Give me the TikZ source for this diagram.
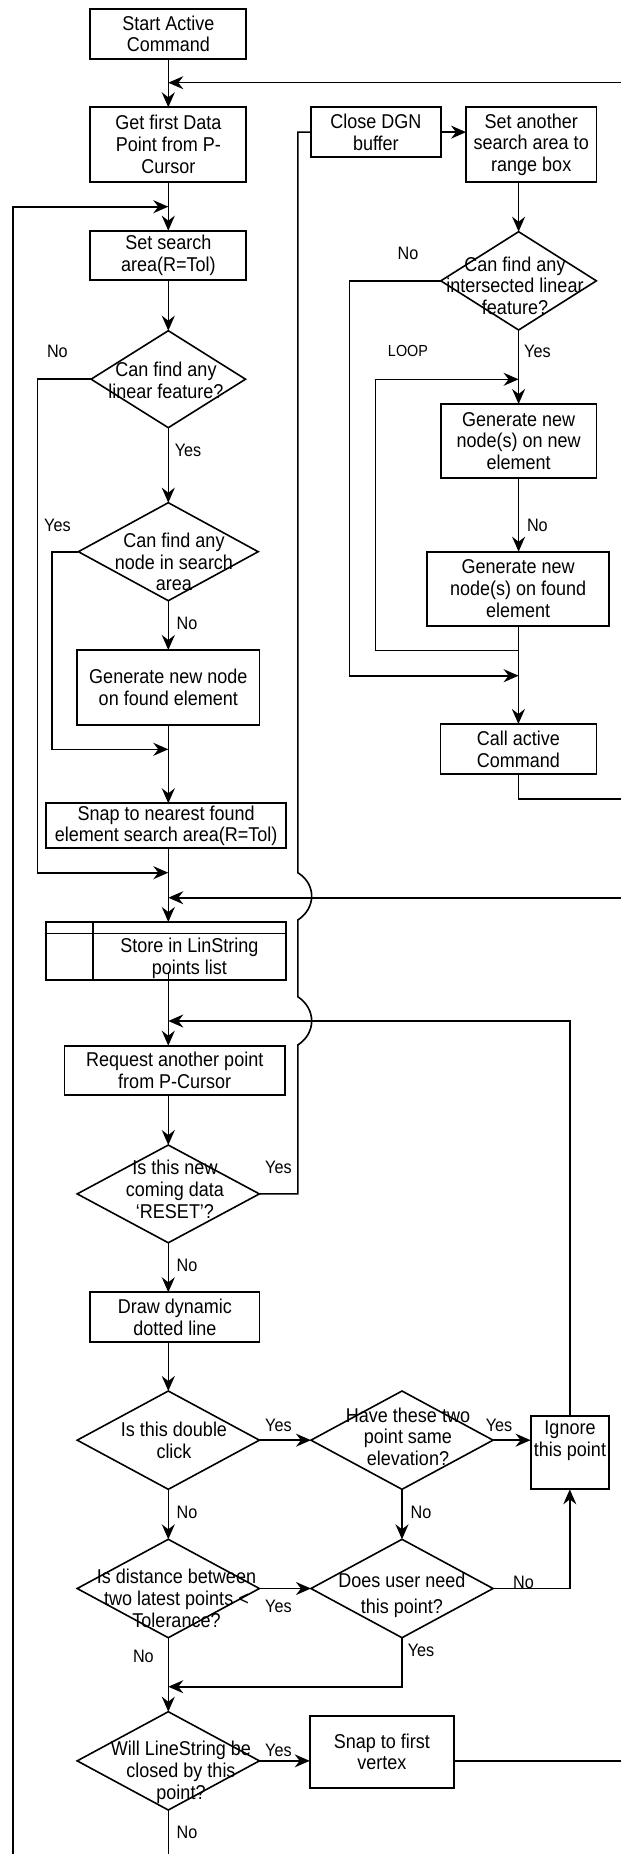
\documentclass[tikz,border=0pt]{standalone}
\usepackage{fontspec}
\setmainfont{Liberation Sans}[FakeStretch=0.9]
\usetikzlibrary{arrows.meta,shapes.geometric,calc}
\newcommand\fbig{\fontsize{20}{21.8}\selectfont}
\newcommand\flab{\fontsize{18}{20}\selectfont}
\newcommand\floop{\fontsize{16}{18}\selectfont}
\tikzset{
  box/.style={draw, line width=1.8pt, inner sep=0pt, outer sep=0pt, align=center, font=\fbig},
  dia/.style={draw, diamond, line width=1.6pt, inner sep=0pt, outer sep=0pt},
  txt/.style={align=center, font=\fbig, inner sep=0pt},
  lbl/.style={font=\flab, inner sep=0pt},
  ln/.style={line width=1.6pt},
  arr/.style={line width=1.6pt, -{Stealth[length=15pt,width=13pt,inset=5pt]}},
}
\begin{document}
\begin{tikzpicture}[x=1pt,y=-1pt]
\useasboundingbox (0,0) rectangle (621,1854);
\fill[white] (0,0) rectangle (621,1854);

% left column
\node[box, minimum width=156, minimum height=49.7] (start) at (168.3,33.85) {Start Active\\Command};
\node[box, minimum width=156, minimum height=74.7] (getfirst) at (168.3,144.65) {Get first Data\\Point from P-\\Cursor};
\node[box, minimum width=156, minimum height=49.6] (setsearch) at (168.3,255.5) {Set search\\area(R=Tol)};
\node[dia, minimum width=154.4, minimum height=97] (d1) at (168.3,379.2) {};
\node[txt] (t1) at (166,380.5) {Can find any\\linear feature?};
\node[dia, minimum width=179.8, minimum height=98] (d2) at (168.3,551.7) {};
\node[txt] (t2) at (174,562) {Can find any\\node in search\\area};
\node[box, minimum width=182.2, minimum height=74.7] (gennode) at (168.3,687.35) {Generate new node\\on found element};
\node[box, minimum width=240.4, minimum height=45] (snapnear) at (166.1,825.8) {Snap to nearest found\\element search area(R=Tol)};
\node[box, minimum width=240.4, minimum height=58] (store) at (166.1,951) {};
\draw[ln] ($(store.north west)+(0,11.3)$) -- ($(store.north east)+(0,11.3)$);
\draw[ln] ($(store.north west)+(47.1,0)$) -- ($(store.south west)+(47.1,0)$);
\node[txt] (t3) at (189.3,958) {Store in LinString\\points list};
\node[box, minimum width=220.5, minimum height=49.6] (request) at (174.75,1070.5) {Request another point\\from P-Cursor};
\node[dia, minimum width=182.2, minimum height=97.7] (d3) at (168.3,1193.9) {};
\node[txt] (t4) at (175,1189.1) {Is this new\\coming data\\`RESET'?};
\node[box, minimum width=169.1, minimum height=49.4] (draw) at (174.85,1317) {Draw dynamic\\dotted line};
\node[dia, minimum width=182.2, minimum height=98.3] (d4) at (168.3,1440.15) {};
\node[txt] (t5) at (174,1440) {Is this double\\click};
\node[dia, minimum width=182.2, minimum height=98.4] (d5) at (168.3,1588.5) {};
\node[txt] (t6) at (176.5,1598.3) {Is distance between\\two latest points <\\Tolerance?};
\node[dia, minimum width=182.2, minimum height=98.3] (d6) at (168.3,1760.85) {};
\node[txt] (t7) at (181,1772.3) {Will LineString be\\closed by this\\point?};

% right side
\node[box, minimum width=129.9, minimum height=49.7] (closedgn) at (375.85,132.15) {Close DGN\\buffer};
\node[box, minimum width=130.4, minimum height=74.7] (setanother) at (531.25,144.65) {Set another\\search area to\\range box};
\node[dia, minimum width=155.6, minimum height=98.3] (d7) at (518.6,280.85) {};
\node[txt] (t8) at (515,285.8) {Can find any\\intersected linear\\feature?};
\node[box, minimum width=155.6, minimum height=74] (gennew) at (518.6,441) {Generate new\\node(s) on new\\element};
\node[box, minimum width=181.7, minimum height=74.3] (genfound) at (518.15,588.85) {Generate new\\node(s) on found\\element};
\node[box, minimum width=156, minimum height=50] (callactive) at (518.4,749) {Call active\\Command};
\node[dia, minimum width=182.1, minimum height=98.3] (have) at (402,1440.15) {};
\node[txt] (t9) at (408,1436.7) {Have these two\\point same\\elevation?};
\node[box, minimum width=78.4, minimum height=73.6] (ignore) at (569.8,1452.5) {};
\node[txt] (t10) at (570,1440.5) {Ignore\\this point};
\node[dia, minimum width=182.1, minimum height=98.4] (doesuser) at (402,1588.5) {};
\node[txt, font=\fontsize{20}{26}\selectfont] (t11) at (402,1595.3) {Does user need\\this point?};
\node[box, minimum width=144.5, minimum height=71.7] (snapfirst) at (381.95,1751.85) {Snap to first\\vertex};

% coordinates
\coordinate (eA) at (621,82.7);   \coordinate (jA) at (168.3,82.7);
\coordinate (bL) at (13.1,1854);  \coordinate (jL) at (168.3,206.7);
\coordinate (jB) at (168.3,872.7);
\coordinate (jC) at (168.3,749.3);
\coordinate (eD) at (621,897.7);  \coordinate (jD) at (168.3,897.7);
\coordinate (jE) at (168.3,1021);
\coordinate (jF) at (168.3,1686.7);
\coordinate (eG) at (621,1760.85);
\coordinate (bM) at (168.3,1854);
\coordinate (jH) at (518.6,379.3);
\coordinate (jI) at (518.6,650.3);
\coordinate (jJ) at (518.6,675.7);
\coordinate (eK) at (621,798.7);

% left connectors
\draw[arr] (start) -- (getfirst);
\draw[arr] (eA) -- (jA);
\draw[arr] (getfirst) -- (setsearch);
\draw[arr] (bL) |- (jL);
\draw[arr] (setsearch) -- (d1);
\draw[arr] (d1) -- (d2);
\draw[arr] (d1.west) -- ++(-53.5,0) |- (jB);
\draw[arr] (d2) -- (gennode);
\draw[arr] (d2.west) -- ++(-26.5,0) |- (jC);
\draw[arr] (gennode.south) -- (gennode.south |- snapnear.north);
\draw[arr] (snapnear.south -| start.south) -- (store.north -| start.south);
\draw[arr] (eD) -- (jD);
\draw[arr] ($(store.south -| start.south)+(0,-8.3)$) -- (request.north -| start.south);
\draw[arr] (ignore.north) |- (jE);
\draw[arr] (request.south -| d3.north) -- (d3.north);
\draw[arr] (d3.south) -- (d3.south |- draw.north);
\draw[arr] (draw.south -| d4.north) -- (d4.north);
\draw[arr] (d4.east) -- (have.west);
\draw[arr] (have.east) -- (have.east -| ignore.west);
\draw[arr] (d4.south) -- (d5.north);
\draw[arr] (have.south) -- (doesuser.north);
\draw[arr] (d5.east) -- (doesuser.west);
\draw[arr] (doesuser.east) -| (ignore.south);
\draw[arr] (doesuser.south) |- (jF);
\draw[arr] (d5.south) -- (d6.north);
\draw[arr] (d6.east) -- (d6.east -| snapfirst.west);
\draw[ln] (snapfirst.east |- eG) -- (eG);
\draw[ln] (d6.south) -- (bM);

% RESET line with hops
\draw[ln] (d3.east) -- (297.8,1193.9) -- (297.8,1045)
  .. controls (316.3,1033) and (316.3,1009) .. (297.8,996.7) -- (297.8,920)
  .. controls (316.3,908) and (316.3,884) .. (297.8,872.7) |- (closedgn.west);

% right connectors
\draw[arr] (closedgn.east) -- (closedgn.east -| setanother.west);
\draw[arr] (setanother.south -| d7.north) -- (d7.north);
\draw[arr] (d7.south) -- (gennew.north);
\draw[arr] (jI) -- ++(-143.2,0) |- (jH);
\draw[arr] (d7.west) -- ++(-91.5,0) |- (jJ);
\draw[arr] (gennew.south) -- (gennew.south |- genfound.north);
\draw[arr] (genfound.south -| callactive.north) -- (callactive.north);
\draw[ln] (callactive.south) |- (eK);

% labels
\node[lbl] (l1) at (57.4,351.7) {No};
\node[lbl] (l2) at (188,450.7) {Yes};
\node[lbl] (l3) at (57.4,525) {Yes};
\node[lbl] (l4) at (187,623.3) {No};
\node[lbl] (l5) at (408,253.3) {No};
\node[lbl, font=\floop] (l6) at (408,351) {LOOP};
\node[lbl] (l7) at (537.4,351) {Yes};
\node[lbl] (l8) at (537.4,525) {No};
\node[lbl] (l9) at (278.4,1167.3) {Yes};
\node[lbl] (l10) at (187,1265) {No};
\node[lbl] (l11) at (278.4,1425) {Yes};
\node[lbl] (l12) at (499,1425) {Yes};
\node[lbl] (l13) at (187,1512) {No};
\node[lbl] (l14) at (421,1512) {No};
\node[lbl] (l15) at (278.4,1606.7) {Yes};
\node[lbl] (l16) at (523.5,1582.7) {No};
\node[lbl] (l17) at (421,1650) {Yes};
\node[lbl] (l18) at (143.4,1656.7) {No};
\node[lbl] (l19) at (278.4,1750) {Yes};
\node[lbl] (l20) at (187,1832.7) {No};
\end{tikzpicture}
\end{document}
